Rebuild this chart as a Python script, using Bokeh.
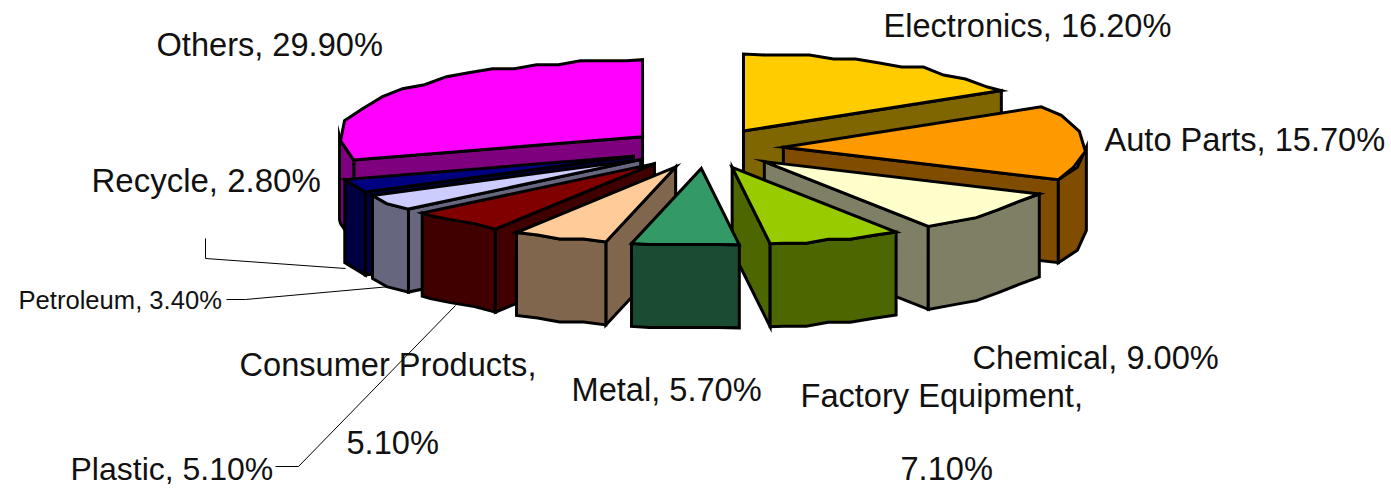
import math
from bokeh.plotting import figure
from bokeh.models import Range1d
from bokeh.core.properties import value
from bokeh.embed import file_html
from bokeh.resources import INLINE

categories = ["Electronics", "Auto Parts", "Chemical", "Factory Equipment", "Metal",
              "Consumer Products", "Plastic", "Petroleum", "Recycle", "Others"]
shares = [16.2, 15.7, 9.0, 7.1, 5.7, 5.1, 5.1, 3.4, 2.8, 29.9]
colors = ["#FFCC00", "#FF9900", "#FFFFCC", "#99CC00", "#339966",
          "#FFCC99", "#800000", "#CCCCFF", "#000080", "#FF00FF"]

label_texts = ["Others, 29.90%", "Electronics, 16.20%", "Auto Parts, 15.70%", "Recycle, 2.80%",
               "Petroleum, 3.40%", "Consumer Products,", "5.10%", "Plastic, 5.10%",
               "Metal, 5.70%", "Chemical, 9.00%", "Factory Equipment,", "7.10%"]
label_x = [156, 883, 1104, 91, 18, 239, 346, 70, 571, 972, 800, 900]
label_y = [57, 38, 152, 193, 309, 377, 455, 481, 402, 370, 408, 481]
label_px = [32.6, 32.6, 32.6, 33.0, 25.6, 32.6, 32.6, 32.0, 32.6, 32.6, 32.6, 32.6]

leader_xs = [[205, 205, 345], [226, 245, 390], [275, 298, 455]]
leader_ys = [[238, 258, 268], [299, 299, 286], [466, 466, 305]]

CX, CY, RX, RY, DEPTH, EX, EY = 705, 148, 303, 77, 83, 78, 20
STEP, SNAP_X, SNAP_Y = 22, 2, 4


def snap(v, g):
    return round(v / g) * g


def rim(ax, ay, t1, t2):
    pos = lambda d: (RX * math.sin(math.radians(d)), -RY * math.cos(math.radians(d)))
    x0, y0 = pos(t1)
    pts = [(ax + x0, ay + y0)]
    d, run = t1, 0.0
    while d < t2:
        d = min(d + 0.25, t2)
        x, y = pos(d)
        run += math.hypot(x - x0, y - y0)
        x0, y0 = x, y
        if run >= STEP and t2 - d > 1.0:
            pts.append((ax + snap(x, SNAP_X), ay + snap(y, SNAP_Y)))
            run = 0.0
    pts.append((ax + x0, ay + y0))
    return pts


def darker(c):
    return "#%02X%02X%02X" % tuple(int(c[i:i + 2], 16) // 2 for i in (1, 3, 5))


p = figure(width=1391, height=488, output_backend="svg", toolbar_location=None,
           x_range=Range1d(0, 1391), y_range=Range1d(488, 0), min_border=0, outline_line_color=None)
p.axis.visible = False
p.grid.visible = False
p.background_fill_color = "white"

for xs, ys in zip(leader_xs, leader_ys):
    p.line(xs, ys, line_color="#000000", line_width=1)

slices = []
acc = 0.0
total = sum(shares)
for name, s, c in zip(categories, shares, colors):
    t1 = acc / total * 360
    acc += s
    t2 = acc / total * 360
    slices.append((t1, t2, c))


def face(xy, color):
    p.patch([a for a, _ in xy], [b for _, b in xy], fill_color=color, line_color="#000000",
            line_width=3, line_join="miter")


for t1, t2, c in sorted(slices, key=lambda r: -abs((r[0] + r[1]) / 2 - 180)):
    mid = math.radians((t1 + t2) / 2)
    ax = CX + EX * math.sin(mid)
    ay = CY - EY * math.cos(mid)
    side = darker(c)
    for t, vis in ((t1, math.sin(math.radians(t1)) < -1e-6), (t2, math.sin(math.radians(t2)) > 1e-6)):
        if vis:
            r = (ax + RX * math.sin(math.radians(t)), ay - RY * math.cos(math.radians(t)))
            face([(ax, ay), r, (r[0], r[1] + DEPTH), (ax, ay + DEPTH)], side)
    lo, hi = max(t1, 90), min(t2, 270)
    if lo < hi:
        arc = rim(ax, ay, lo, hi)
        face(arc + [(x, y + DEPTH) for x, y in reversed(arc)], side)
    face([(ax, ay)] + rim(ax, ay, t1, t2), c)

# Bokeh's SVG text sits about 0.39 em below the requested baseline here.
for t, x, y, s in zip(label_texts, label_x, label_y, label_px):
    p.text([x], [y - 0.39 * s], text=[t], text_font=value("Liberation Sans"), text_font_size=f"{s}px",
           text_color="#111111", text_align="left", text_baseline="alphabetic")

open("out.html", "w").write(file_html(p, INLINE))
